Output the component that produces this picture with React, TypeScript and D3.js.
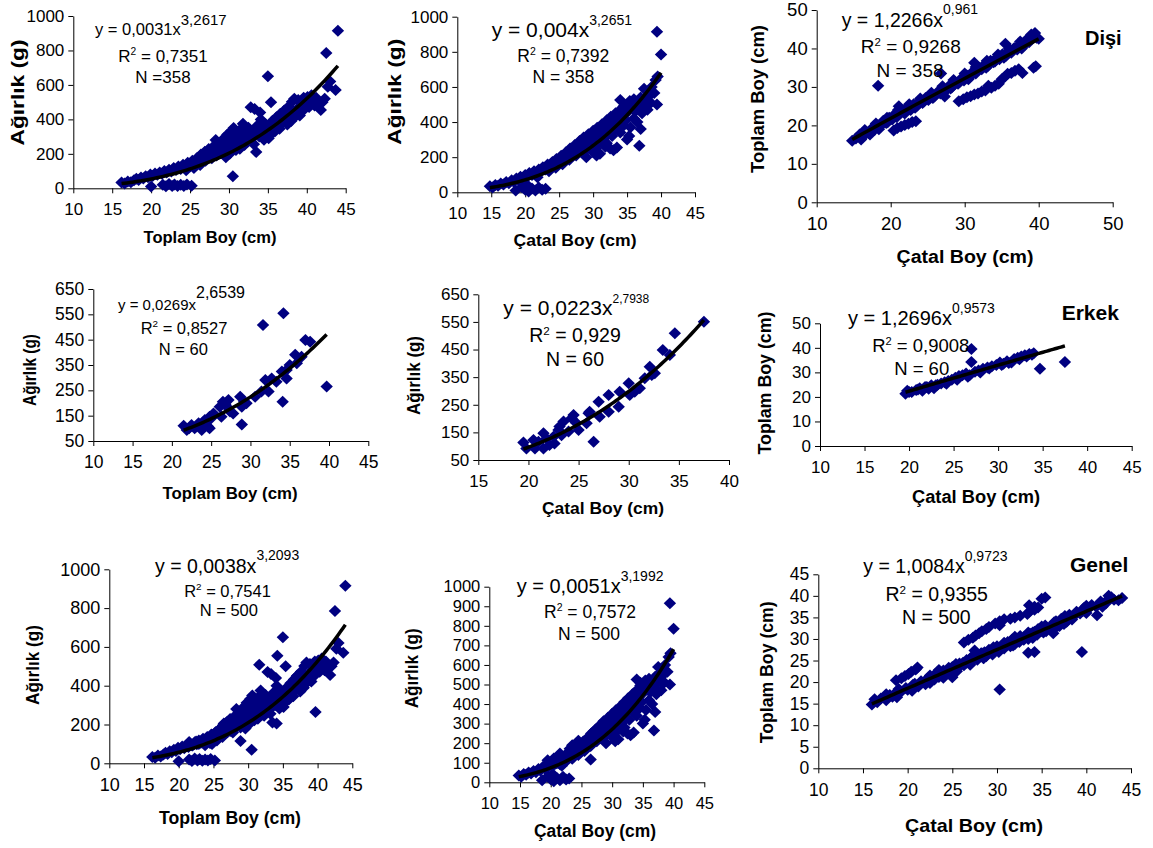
import React, { useEffect, useRef } from "react";
import * as d3 from "d3";

type Pt = [number, number];

// Dişi: toplam boy (cm) - ağırlık (g)
const femaleTlW: Pt[] = [
  [16.2, 33], [16.6, 28], [17, 40], [17.4, 35], [17.8, 46], [18.1, 55], [18.4, 48], [18.7, 62], [19, 57], [19.3, 70],
  [19.6, 64], [19.9, 80], [20, 10], [20.2, 72], [20.5, 86], [20.8, 78], [21.1, 92], [21.4, 84], [21.7, 100], [22, 92],
  [22.3, 108], [22.6, 98], [22.9, 118], [23.2, 106], [23.5, 126], [23.8, 112], [24.1, 136], [24.4, 120], [24.7, 148], [25, 128],
  [25.3, 160], [25.6, 140], [25.9, 176], [26.1, 152], [26.4, 196], [26.6, 166], [26.9, 212], [27.1, 178], [27.4, 228], [27.6, 190],
  [27.9, 238], [28.1, 204], [28.3, 280], [28.5, 250], [28.7, 214], [29, 264], [29.2, 226], [29.4, 292], [29.6, 240], [29.6, 180],
  [29.8, 312], [30, 262], [30.1, 200], [30.3, 332], [30.4, 282], [30.5, 70], [30.6, 350], [30.8, 300], [30.9, 222], [31.1, 322],
  [31.3, 262], [31.5, 342], [31.8, 375], [31.7, 298], [32, 252], [32.2, 322], [32.5, 352], [32.7, 290], [32.8, 470], [33, 330],
  [33.2, 256], [33.3, 460], [33.5, 210], [33.6, 362], [33.9, 300], [34, 440], [34.1, 400], [34.3, 332], [34.5, 282], [34.7, 372],
  [34.9, 318], [35, 650], [35.1, 290], [35.3, 350], [35.4, 500], [35.6, 392], [35.9, 330], [36.1, 412], [36.3, 362], [36.6, 432],
  [36.9, 382], [37.1, 452], [37.4, 402], [37.6, 472], [37.9, 422], [38.1, 502], [38, 390], [38.4, 520], [38.6, 452], [38.9, 512],
  [39.1, 422], [39.3, 482], [39.6, 525], [39.9, 500], [40.1, 530], [40.3, 472], [40.6, 540], [40.9, 510], [41.2, 525], [41.5, 498],
  [41.8, 455], [42, 500], [42.3, 520], [42.5, 785], [42.7, 590], [43, 620], [43.7, 570], [44, 915],
  [21.5, 20], [21.9, 12], [22.3, 25], [22.7, 14], [23, 22], [23.4, 13], [23.8, 20], [24.2, 14], [24.6, 22], [25.2, 15],
  [24.5, 105], [25.5, 118], [26.3, 135], [27, 160], [27.8, 175], [28.4, 190], [29, 205], [29.3, 255], [30.2, 240], [30.7, 265],
  [31, 280], [31.4, 230], [32, 300], [32.4, 270], [33, 290], [33.4, 330], [34, 360], [34.8, 345], [35.5, 320], [36, 380],
  [36.5, 345], [37, 420], [37.5, 370], [38, 460], [38.6, 420], [39, 470], [39.5, 450], [40, 500], [40.5, 490], [41, 480],
];

// Dişi: çatal boy (cm) - ağırlık (g)
const femaleFlW: Pt[] = [
  [14.8, 35], [15.2, 28], [15.6, 42], [16, 38], [16.4, 50], [16.8, 45], [17.2, 58], [17.6, 52], [18, 68], [18.3, 60],
  [18.6, 10], [18.7, 78], [19, 70], [19.3, 88], [19.5, 30], [19.6, 80], [20, 98], [20, 15], [20.3, 88], [20.3, 42],
  [20.5, 5], [20.6, 110], [21, 98], [21, 22], [21.3, 120], [21.5, 10], [21.6, 108], [22, 130], [22, 28], [22.3, 118],
  [22.5, 14], [22.6, 142], [23, 130], [23, 20], [23.3, 158], [23.6, 142], [24, 172], [24.3, 158], [24.6, 190], [25, 175],
  [25.3, 208], [25.6, 190], [26, 228], [26.3, 208], [26.6, 250], [27, 228], [27.3, 270], [27.6, 245], [28, 292], [28.3, 262],
  [28.6, 312], [29, 280], [29, 200], [29.3, 330], [29.6, 295], [30, 350], [30, 230], [30.3, 315], [30.5, 210], [30.6, 368],
  [31, 335], [31, 220], [31.3, 388], [31.6, 350], [32, 410], [32, 280], [32.3, 372], [32.6, 430], [33, 392], [33, 240],
  [33.3, 450], [33.5, 255], [33.6, 412], [34, 470], [34, 525], [34.3, 435], [34.5, 380], [34.6, 495], [35, 455], [35, 300],
  [35.3, 320], [35.4, 520], [35.6, 480], [36, 530], [36, 420], [36.3, 500], [36.5, 400], [36.8, 265], [37, 360], [37, 540],
  [37.3, 505], [37.5, 590], [37.8, 520], [38, 470], [38.3, 560], [38.6, 600], [39, 565], [39.2, 640], [39.5, 660], [39.4, 500],
  [39.4, 915], [40, 785],
  [21.8, 85], [23.5, 120], [24.5, 140], [25.5, 160], [26.5, 185], [27.5, 210], [28.3, 230], [29.2, 250], [30, 270], [30.8, 285],
  [31.5, 300], [32.2, 330], [32.8, 320], [33.4, 360], [34, 340], [34.8, 410], [35.5, 370], [36.2, 460], [36.8, 480], [37.2, 450],
  [32.5, 250], [31.8, 260], [30.4, 250], [38, 540], [38.5, 510],
];

// Dişi: çatal boy (cm) - toplam boy (cm)
const femaleFlTl: Pt[] = [
  [14.8, 16], [15.3, 16.6], [15.8, 17.6], [16.2, 17], [16.6, 18.3], [17, 18], [17.4, 19.1], [17.8, 18.8], [18.2, 20], [18.6, 19.8],
  [19, 21.2], [19.4, 20.6], [19.8, 22], [20.2, 21.5], [20.6, 23], [21, 22.5], [21.1, 25], [21.5, 23.8], [21.9, 23.1], [22.3, 24.6],
  [22.7, 24], [23.1, 25.5], [23.5, 25], [23.9, 26.3], [24.3, 25.8], [24.7, 27.1], [25.1, 26.6], [25.5, 27.9], [25.9, 27.5], [26.3, 28.6],
  [26.7, 28.3], [27.1, 29.5], [27.5, 29.1], [27.9, 30.3], [28.3, 30], [28.7, 31.2], [29.1, 30.8], [29.5, 32.1], [29.9, 31.7], [30.3, 33],
  [30.7, 32.6], [31.1, 34], [31.3, 36.3], [31.5, 33.5], [31.9, 35], [32.3, 34.6], [32.7, 35.9], [33.1, 35.4], [33.5, 36.8], [33.9, 36.4],
  [34.3, 37.6], [34.7, 37.2], [35.1, 38.5], [35.5, 41.2], [35.6, 38.1], [35.9, 39.3], [36.3, 38.9], [36.7, 40.1], [37.1, 39.7], [37.5, 41.1],
  [37.9, 40.6], [38.3, 42.2], [38.7, 41.6], [39.1, 43.1], [39.5, 44], [39.7, 42.8], [40, 42.5],
  [16, 16.3], [17.2, 17.6], [18.4, 19], [19.6, 20.8], [20.8, 22.2], [22, 23.8], [23.3, 24.6], [24.5, 26.2], [25.7, 27.1], [26.9, 28.6],
  [28.1, 29.6], [29.3, 31.2], [30.5, 32], [31.7, 34.2], [32.9, 35], [34.1, 36.6], [35.3, 37.6], [36.5, 39.6], [37.7, 40], [38.9, 42.3],
  [16.5, 18.8], [18, 20.5], [19.5, 22], [21, 24], [22.5, 25.5], [24, 27], [25.5, 28.5], [27, 30.2], [28.5, 31.8], [30, 33.5],
  [31.5, 35.2], [33, 36.8], [34.5, 38.4], [36, 40], [37.5, 41.8], [39, 43.6],
  [18.3, 30.3], [26.8, 33.5], [27.3, 27.5],
  [20.4, 18.7], [20.9, 19.3], [21.4, 19.7], [21.9, 20.1], [22.4, 20.4], [22.9, 20.9], [23.4, 21.1],
  [29.2, 26.3], [29.8, 26.8], [30.3, 27.3], [30.8, 27.6], [31.3, 28], [31.8, 28.3], [32.3, 28.8], [32.8, 29.1], [33.2, 30.3], [33.6, 29.8],
  [34.1, 30.3], [34.6, 30.8], [35, 32], [35.4, 32.6], [35.8, 33.4], [36.3, 33.6], [36.8, 34.2], [37.3, 34.6], [37.8, 33.6], [39.3, 35], [39.6, 35.4],
];

// Erkek: toplam boy (cm) - ağırlık (g)
const maleTlW: Pt[] = [
  [21.5, 110], [21.9, 93], [22.2, 100], [22.5, 113], [22.9, 100], [23.1, 108], [23.4, 120], [23.8, 93], [24, 125], [24.2, 133],
  [24.6, 107], [24.8, 146], [24.8, 100], [25, 140], [25.3, 159], [26.1, 185], [26.3, 146], [26.5, 205], [26.8, 195], [27, 185],
  [27.2, 212], [27.4, 166], [27.8, 159], [28.9, 115], [28.7, 225], [28.9, 185], [29.2, 205], [29.5, 199], [30.6, 225], [31.4, 245],
  [31.9, 291], [32.3, 245], [31.6, 508], [32.7, 297], [33.3, 284], [34, 324], [34.1, 205], [34.2, 554], [34.6, 330], [34.6, 297],
  [35, 350], [35.7, 390], [35.9, 357], [36.5, 383], [37, 449], [37.6, 442], [39.7, 265],
];

// Erkek: çatal boy (cm) - ağırlık (g)
const maleFlW: Pt[] = [
  [19.5, 113], [19.8, 92], [20.5, 122], [20.65, 92], [21, 116], [21.5, 147], [21.5, 92], [21.8, 128], [22.1, 104], [22.5, 134],
  [22.6, 110], [23, 159], [23.1, 171], [23.5, 189], [23.3, 140], [24, 153], [24.3, 201], [24.5, 213], [24.8, 183], [25, 159],
  [25.8, 183], [26, 219], [26.1, 225], [26.5, 116], [27, 261], [27.1, 207], [28, 285], [28, 225], [29, 243], [29.1, 297],
  [30, 328], [30.1, 285], [30.6, 297], [31.1, 310], [31.6, 346], [32.1, 388], [32.3, 358], [32.6, 364], [33.4, 448], [34.1, 430],
  [34.6, 509], [37.5, 551],
];

// Erkek: çatal boy (cm) - toplam boy (cm)
const maleFlTl: Pt[] = [
  [19.6, 21.3], [19.8, 22.5], [20.3, 22], [20.8, 22.8], [21.2, 23.5], [21.5, 22.5], [21.8, 24], [22.2, 23.3], [22.5, 24.8], [22.8, 23.5],
  [23.2, 25], [23.6, 25.5], [24, 26], [24.4, 26.5], [24.8, 27], [25.2, 27.8], [25.6, 28.5], [26, 28.8], [26.4, 29.5], [26.8, 28.8],
  [27, 39.5], [27, 34.2], [27.4, 30.3], [28, 30], [28.3, 31.5], [28.8, 32], [29.3, 32.5], [29.8, 33], [30.2, 34], [30.6, 33.5],
  [31, 34.5], [31.5, 34], [31.8, 35.5], [32.2, 36], [32.6, 36.5], [33, 37], [33.5, 37.5], [34, 37.8], [34.7, 31.5], [37.5, 34.2],
  [20, 22], [21, 23], [22, 24], [23, 24.8], [24.2, 25.4], [25.4, 27], [26.6, 28.2], [27.8, 30.8], [29, 31.6], [30.4, 33],
  [31.2, 33.8], [32.4, 35.3], [33.2, 36.5], [33.8, 37.2],
];

// Genel = dişi + erkek (son grafik eksenleri ters çizilmiş)
const generalTlW: Pt[] = [...femaleTlW, ...maleTlW];
const generalFlW: Pt[] = [...femaleFlW, ...maleFlW];
const generalFlTl: Pt[] = [...femaleFlTl, ...maleFlTl].map(([f, t]) => [t, f] as Pt);

const coefA = ["0,0031", "0,004", "1,2266", "0,0269", "0,0223", "1,2696", "0,0038", "0,0051", "1,0084"];
const coefB = ["3,2617", "3,2651", "0,961", "2,6539", "2,7938", "0,9573", "3,2093", "3,1992", "0,9723"];
const rSquared = ["0,7351", "0,7392", "0,9268", "0,8527", "0,929", "0,9008", "0,7541", "0,7572", "0,9355"];
const nLabels = ["N =358", "N = 358", "N = 358", "N = 60", "N = 60", "N = 60", "N = 500", "N = 500", "N = 500"];
const groupLabels = ["Dişi", "Erkek", "Genel"];
const xTitles = ["Toplam Boy (cm)", "Çatal Boy (cm)", "Çatal Boy (cm)"];
const yTitles = ["Ağırlık (g)", "Ağırlık (g)", "Toplam Boy (cm)"];
const xDomains = [[10, 45], [10, 45], [10, 50], [10, 45], [15, 40], [10, 45], [10, 45], [10, 45], [10, 45]];
const yDomains = [[0, 1000], [0, 1000], [0, 50], [50, 650], [50, 650], [0, 50], [0, 1000], [0, 1000], [0, 45]];
const xSteps = [5, 5, 10, 5, 5, 5, 5, 5, 5];
const ySteps = [200, 200, 10, 100, 100, 10, 200, 100, 5];

const panelData = [femaleTlW, femaleFlW, femaleFlTl, maleTlW, maleFlW, maleFlTl, generalTlW, generalFlW, generalFlTl];

const FONT = "'Liberation Sans', Arial, Helvetica, sans-serif";
const MARKER = "#000080";

// pixel layout of each panel
const layout = [
  { left: 73.3, right: 345.7, top: 16, bottom: 188.3, tickFs: 17,
    eq: { x: 95, y: 35, fs: 16.5, sup: 15, dy: -10 }, r2: { x: 163, y: 62, fs: 17 }, n: { x: 163, y: 83, fs: 17 },
    xt: { x: 210, y: 243, len: 133, fs: 17 }, yt: { x: 24, y: 92.5, len: 106, fs: 17.5 } },
  { left: 457.3, right: 695, top: 16.7, bottom: 192.3, tickFs: 17,
    eq: { x: 491.7, y: 36.7, fs: 21, sup: 14, dy: -12 }, r2: { x: 563.3, y: 61.7, fs: 17.5 }, n: { x: 563.3, y: 83.3, fs: 17.5 },
    xt: { x: 575, y: 246, len: 123, fs: 17 }, yt: { x: 401, y: 91.7, len: 106, fs: 17.5 } },
  { left: 816.7, right: 1112.7, top: 10, bottom: 202.3, tickFs: 18.5,
    eq: { x: 841.7, y: 26.7, fs: 19.5, sup: 14, dy: -13 }, r2: { x: 910.8, y: 53.3, fs: 19 }, n: { x: 910, y: 76.7, fs: 19 },
    xt: { x: 965, y: 263, len: 137, fs: 18 }, yt: { x: 764, y: 99, len: 148, fs: 18 },
    group: { text: 0, x: 1085, y: 45, fs: 20 } },
  { left: 93.3, right: 368.3, top: 289, bottom: 441, tickFs: 17.5,
    eq: { x: 118, y: 310, fs: 15, sup: 16, dy: -12 }, r2: { x: 184, y: 334, fs: 16.5 }, n: { x: 183.3, y: 355, fs: 16.5 },
    xt: { x: 230, y: 499, len: 135, fs: 17 }, yt: { x: 36, y: 370, len: 72, fs: 17.5 } },
  { left: 478.3, right: 729, top: 294.3, bottom: 460, tickFs: 17,
    eq: { x: 503.3, y: 315, fs: 21, sup: 12, dy: -12 }, r2: { x: 575, y: 341.7, fs: 19.5 }, n: { x: 575, y: 366, fs: 19.5 },
    xt: { x: 603, y: 514, len: 122, fs: 17 }, yt: { x: 419.5, y: 375.5, len: 79, fs: 17.5 } },
  { left: 820, right: 1131.7, top: 323.3, bottom: 446, tickFs: 17,
    eq: { x: 848, y: 325, fs: 20, sup: 14, dy: -12 }, r2: { x: 920.8, y: 351.7, fs: 18.5 }, n: { x: 921.7, y: 375, fs: 18.5 },
    xt: { x: 976, y: 503.3, len: 128, fs: 18 }, yt: { x: 771, y: 383, len: 143, fs: 17.5 },
    group: { text: 1, x: 1061.7, y: 320, fs: 21 } },
  { left: 109.3, right: 352.3, top: 569.3, bottom: 763.3, tickFs: 18,
    eq: { x: 155, y: 573.3, fs: 19.5, sup: 14, dy: -13 }, r2: { x: 227.5, y: 596.7, fs: 16.5 }, n: { x: 228.8, y: 616, fs: 16.5 },
    xt: { x: 230, y: 824, len: 142, fs: 17.5 }, yt: { x: 39, y: 665, len: 80, fs: 17.5 } },
  { left: 489.3, right: 704.3, top: 586.7, bottom: 782.3, tickFs: 16.5,
    eq: { x: 516.7, y: 593.3, fs: 20, sup: 14, dy: -12 }, r2: { x: 590, y: 618.3, fs: 17.5 }, n: { x: 589, y: 640, fs: 17.5 },
    xt: { x: 595, y: 836.7, len: 122, fs: 17.5 }, yt: { x: 418, y: 668.3, len: 80, fs: 17.5 } },
  { left: 818.3, right: 1131, top: 574.3, bottom: 768.3, tickFs: 17.5,
    eq: { x: 863.3, y: 572.7, fs: 19.5, sup: 14, dy: -12 }, r2: { x: 936.7, y: 601, fs: 19.5 }, n: { x: 936.3, y: 624.3, fs: 19.5 },
    xt: { x: 974, y: 831.7, len: 138, fs: 19 }, yt: { x: 773, y: 672.3, len: 142, fs: 17.5 },
    group: { text: 2, x: 1070, y: 571.7, fs: 21 } },
];

const diamond = "M0,-6L6.2,0L0,6L-6.2,0Z";
const num = (s: string) => parseFloat(s.replace(",", "."));

function Panel({ i }: { i: number }) {
  const cfg: any = layout[i];
  const data = panelData[i];
  const col = i % 3;
  const xRef = useRef<SVGGElement>(null);
  const yRef = useRef<SVGGElement>(null);

  const x = d3.scaleLinear().domain(xDomains[i]).range([cfg.left, cfg.right]);
  const y = d3.scaleLinear().domain(yDomains[i]).range([cfg.bottom, cfg.top]);

  useEffect(() => {
    const xd = xDomains[i], yd = yDomains[i];
    const xTicks = d3.range(xd[0], xd[1] + 1e-6, xSteps[i]);
    const yTicks = d3.range(yd[0], yd[1] + 1e-6, ySteps[i]);
    const gx = d3.select(xRef.current);
    gx.attr("transform", `translate(0,${cfg.bottom})`)
      .call(d3.axisBottom(x).tickValues(xTicks).tickSize(5).tickSizeOuter(0).tickPadding(10).tickFormat(d3.format("d")) as any);
    const gy = d3.select(yRef.current);
    gy.attr("transform", `translate(${cfg.left},0)`)
      .call(d3.axisLeft(y).tickValues(yTicks).tickSize(5).tickSizeOuter(0).tickPadding(4).tickFormat(d3.format("d")) as any);
    [gx, gy].forEach((g) => {
      g.attr("font-family", FONT).attr("font-size", cfg.tickFs);
      g.selectAll("path,line").attr("stroke", "#000").attr("stroke-width", 1);
      g.selectAll("text").attr("fill", "#000");
    });
  }, []);

  const a = num(coefA[i]);
  const b = num(coefB[i]);
  const [x0, x1] = d3.extent(data, (d) => d[0]) as [number, number];
  const xs = d3.range(0, 81).map((k) => x0 + ((x1 - x0) * k) / 80);
  const curve = d3.line<number>().x((v) => x(v)).y((v) => y(a * Math.pow(v, b)))(xs) || "";

  return (
    <g fontFamily={FONT} fill="#000">
      <g ref={xRef} />
      <g ref={yRef} />
      <g>
        {data.map((d, k) => (
          <path key={k} d={diamond} transform={`translate(${x(d[0])},${y(d[1])})`} fill={MARKER} />
        ))}
      </g>
      <path d={curve} fill="none" stroke="#000" strokeWidth={3.5} />
      <text x={cfg.eq.x} y={cfg.eq.y} fontSize={cfg.eq.fs}>
        {`y = ${coefA[i]}x`}
        <tspan dy={cfg.eq.dy} fontSize={cfg.eq.sup}>{coefB[i]}</tspan>
      </text>
      <text x={cfg.r2.x} y={cfg.r2.y} fontSize={cfg.r2.fs} textAnchor="middle">
        R<tspan dy={-7} fontSize={cfg.r2.fs * 0.6}>2</tspan>
        <tspan dy={7}>{` = ${rSquared[i]}`}</tspan>
      </text>
      <text x={cfg.n.x} y={cfg.n.y} fontSize={cfg.n.fs} textAnchor="middle">{nLabels[i]}</text>
      <text x={cfg.xt.x} y={cfg.xt.y} fontSize={cfg.xt.fs} fontWeight="bold" textAnchor="middle"
        textLength={cfg.xt.len} lengthAdjust="spacingAndGlyphs">{xTitles[col]}</text>
      <text transform={`translate(${cfg.yt.x},${cfg.yt.y}) rotate(-90)`} fontSize={cfg.yt.fs} fontWeight="bold"
        textAnchor="middle" textLength={cfg.yt.len} lengthAdjust="spacingAndGlyphs">{yTitles[col]}</text>
      {cfg.group && (
        <text x={cfg.group.x} y={cfg.group.y} fontSize={cfg.group.fs} fontWeight="bold">{groupLabels[cfg.group.text]}</text>
      )}
    </g>
  );
}

export default function App() {
  return (
    <svg width={1153} height={848} style={{ position: "absolute", left: 0, top: 0, background: "#fff" }}>
      <rect width={1153} height={848} fill="#fff" />
      {layout.map((_, i) => (
        <Panel key={i} i={i} />
      ))}
    </svg>
  );
}
